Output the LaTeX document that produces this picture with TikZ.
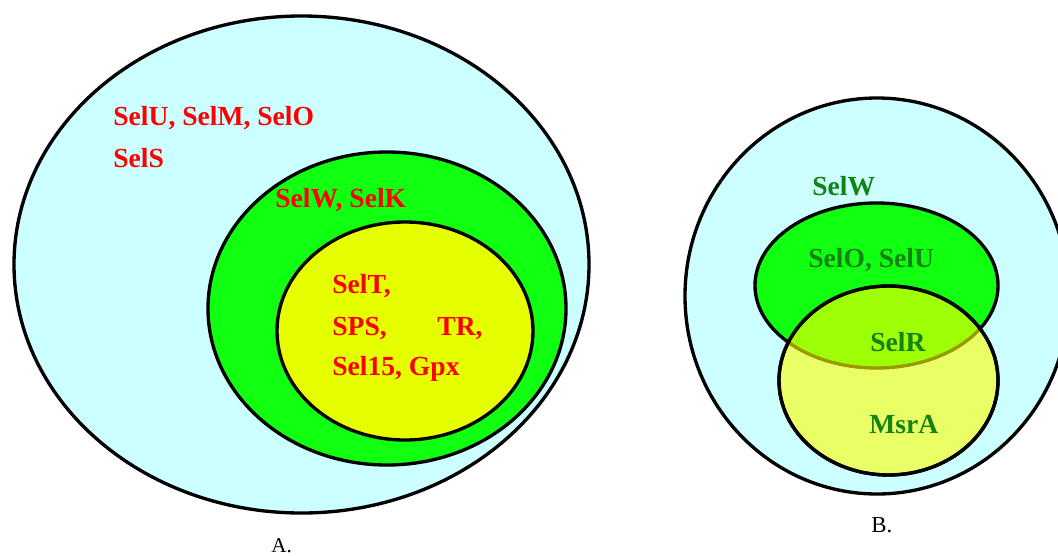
\documentclass[tikz,border=0pt]{standalone}
\usepackage{fontspec}
\setmainfont{Liberation Serif}
\definecolor{skyfill}{RGB}{204,255,255}
\definecolor{greenfill}{RGB}{17,255,17}
\definecolor{yellowA}{RGB}{230,255,0}
\definecolor{yellowB}{RGB}{255,255,0}
\definecolor{redtxt}{RGB}{255,0,0}
\definecolor{greentxt}{RGB}{20,130,20}
\begin{document}
\begin{tikzpicture}[x=0.02cm,y=-0.02cm,
  ring/.style={draw=black,line width=1.9pt},
  redlab/.style={anchor=base west,inner sep=0pt,text=redtxt,font=\fontsize{15.7}{18}\selectfont\bfseries},
  greenlab/.style={anchor=base west,inner sep=0pt,text=greentxt,font=\fontsize{15.7}{18}\selectfont\bfseries},
  caplab/.style={anchor=base west,inner sep=0pt,font=\fontsize{12}{14}\selectfont}]
\useasboundingbox (0,0) rectangle (1058,555);
% Diagram A
\draw[ring,fill=skyfill] (301.5,264.5) ellipse [x radius=287.5,y radius=248.5];
\draw[ring,fill=greenfill] (387,308.5) ellipse [x radius=179,y radius=156.5];
\draw[ring,fill=yellowA] (405,331) ellipse [x radius=128,y radius=109];
\node[redlab] (a1) at (113,125) {SelU, SelM, SelO};
\node[redlab] (a2) at (113,167) {SelS};
\node[redlab] (a3) at (275,207) {SelW, SelK};
\node[redlab] (a4) at (332,293) {SelT,};
\node[redlab] (a5) at (332,335) {SPS,};
\node[redlab] (a6) at (437,335) {TR,};
\node[redlab] (a7) at (332,375) {Sel15, Gpx};
\node[caplab] (capA) at (271,552) {A.};
% Diagram B
\draw[ring,fill=skyfill] (877,296) ellipse [x radius=192,y radius=198];
\draw[ring,fill=greenfill] (876.5,285.5) ellipse [x radius=121.5,y radius=82.5];
\draw[ring,fill=yellowB,fill opacity=0.6] (888.5,380.5) ellipse [x radius=109.5,y radius=94.5];
\draw[ring,fill=none] (888.5,380.5) ellipse [x radius=109.5,y radius=94.5];
\node[greenlab] (b1) at (812,195) {SelW};
\node[greenlab] (b2) at (808,267) {SelO, SelU};
\node[greenlab] (b3) at (870,351) {SelR};
\node[greenlab] (b4) at (869,433) {MsrA};
\node[caplab,font=\fontsize{13}{15}\selectfont] (capB) at (871,532) {B.};
\end{tikzpicture}
\end{document}
